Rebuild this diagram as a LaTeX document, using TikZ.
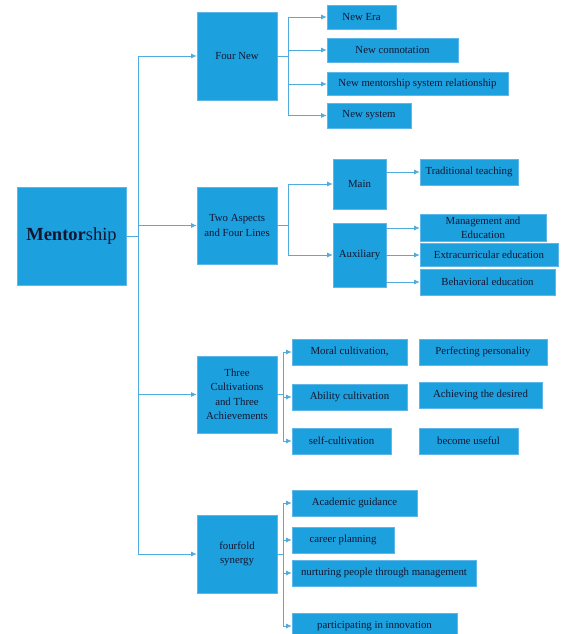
\documentclass[tikz,border=0pt]{standalone}
\usepackage{fontspec}
\setmainfont{Liberation Serif}
\usepackage{xcolor}
\usetikzlibrary{arrows.meta}
\definecolor{boxblue}{RGB}{29,160,222}
\definecolor{boxedge}{RGB}{95,182,232}
\definecolor{linkblue}{RGB}{80,172,222}
\definecolor{inkblue}{RGB}{18,22,48}

\begin{document}
\begin{tikzpicture}[
    x=1pt, y=-1pt,
    box/.style={draw=boxedge, line width=0.6pt, fill=boxblue, text=inkblue, inner sep=0pt, align=center, font=\fontsize{10.8}{14.5}\selectfont},
    link/.style={draw=linkblue, line width=0.8pt},
    arr/.style={link, ->, >={Latex[length=5.5pt,width=5pt]}},
    ]
    \useasboundingbox (0,0) rectangle (561,634);
    \node[box, minimum width=109pt, minimum height=98pt, font=\fontsize{18.5}{20}\selectfont] (ment) at (71.5,236) {\textbf{Mentor}ship};

    \node[box, minimum width=80pt, minimum height=88pt] (fournew) at (237,56) {Four New};
    \node[box, minimum width=69pt, minimum height=24pt] (era) at (361.5,17) {New Era};
    \node[box, minimum width=131pt, minimum height=24pt] (conn) at (392.5,50) {New connotation};
    \node[box, minimum width=181pt, minimum height=23pt] (rel) at (417.5,84) {New mentorship system relationship};
    \node[box, minimum width=84pt, minimum height=25pt] (sys) at (369,115.5) {New system};

    \node[box, minimum width=80pt, minimum height=77pt] (aspects) at (237,225.5) {Two Aspects\\and Four Lines};
    \node[box, minimum width=53pt, minimum height=50pt] (main) at (359.5,184) {Main};
    \node[box, minimum width=53pt, minimum height=64pt] (aux) at (359.5,255) {Auxiliary};
    \node[box, minimum width=98pt, minimum height=26pt] (trad) at (469,172) {Traditional teaching};
    \node[box, minimum width=126pt, minimum height=27pt] (mgmt) at (483,228) {Management and\\Education};
    \node[box, minimum width=138pt, minimum height=23pt] (extra) at (489,255) {Extracurricular education};
    \node[box, minimum width=135pt, minimum height=26pt] (behav) at (487.5,282) {Behavioral education};

    \node[box, minimum width=80pt, minimum height=77pt] (three) at (237,394.5) {Three\\Cultivations\\and Three\\Achievements};
    \node[box, minimum width=115pt, minimum height=26pt] (moral) at (349.5,352) {Moral cultivation,};
    \node[box, minimum width=115pt, minimum height=26pt] (ability) at (349.5,397) {Ability cultivation};
    \node[box, minimum width=99pt, minimum height=26pt] (self) at (341.5,441) {self-cultivation};
    \node[box, minimum width=128pt, minimum height=26pt] (perf) at (483,352) {Perfecting personality};
    \node[box, minimum width=123pt, minimum height=26pt] (achieve) at (480.5,395) {Achieving the desired};
    \node[box, minimum width=99pt, minimum height=26pt] (useful) at (468.5,441) {become useful};

    \node[box, minimum width=80pt, minimum height=78pt] (fourfold) at (237,554) {fourfold\\synergy};
    \node[box, minimum width=125pt, minimum height=26pt] (acad) at (354.5,503) {Academic guidance};
    \node[box, minimum width=102pt, minimum height=26pt] (career) at (343,540) {career planning};
    \node[box, minimum width=184pt, minimum height=26pt] (nurt) at (384,573) {nurturing people through management};
    \node[box, minimum width=165pt, minimum height=26pt] (innov) at (374.5,626) {participating in innovation};

    \coordinate (trunktop) at (138,56);
    \coordinate (trunkbot) at (138,554);
    \coordinate (fnfork) at (288,56);
    \coordinate (asfork) at (288,225.5);
    \coordinate (thfork) at (283,394.5);
    \coordinate (ffork) at (283,554);

    \draw[link] (trunktop) -- (trunkbot);
    \draw[link] (ment.east) -- (ment.east -| trunktop);
    \draw[arr] (trunktop) -- (fournew.west);
    \draw[arr] (aspects.west -| trunktop) -- (aspects.west);
    \draw[arr] (three.west -| trunktop) -- (three.west);
    \draw[arr] (trunkbot) -- (fourfold.west);

    \draw[link] (fournew.east) -- (fnfork);
    \draw[link] (era.west -| fnfork) -- (sys.west -| fnfork);
    \draw[arr] (era.west -| fnfork) -- (era.west);
    \draw[arr] (conn.west -| fnfork) -- (conn.west);
    \draw[arr] (rel.west -| fnfork) -- (rel.west);
    \draw[arr] (sys.west -| fnfork) -- (sys.west);

    \draw[link] (aspects.east) -- (asfork);
    \draw[link] (main.west -| asfork) -- (aux.west -| asfork);
    \draw[arr] (main.west -| asfork) -- (main.west);
    \draw[arr] (aux.west -| asfork) -- (aux.west);
    \draw[arr] (main.east |- trad.west) -- (trad.west);
    \draw[arr] (aux.east |- mgmt.west) -- (mgmt.west);
    \draw[arr] (aux.east |- extra.west) -- (extra.west);
    \draw[arr] (aux.east |- behav.west) -- (behav.west);

    \draw[link] (three.east) -- (thfork);
    \draw[link] (moral.west -| thfork) -- (self.west -| thfork);
    \draw[arr] (moral.west -| thfork) -- (moral.west);
    \draw[arr] (ability.west -| thfork) -- (ability.west);
    \draw[arr] (self.west -| thfork) -- (self.west);

    \draw[link] (fourfold.east) -- (ffork);
    \draw[link] (acad.west -| ffork) -- (innov.west -| ffork);
    \draw[arr] (acad.west -| ffork) -- (acad.west);
    \draw[arr] (career.west -| ffork) -- (career.west);
    \draw[arr] (nurt.west -| ffork) -- (nurt.west);
    \draw[arr] (innov.west -| ffork) -- (innov.west);
\end{tikzpicture}
\end{document}
